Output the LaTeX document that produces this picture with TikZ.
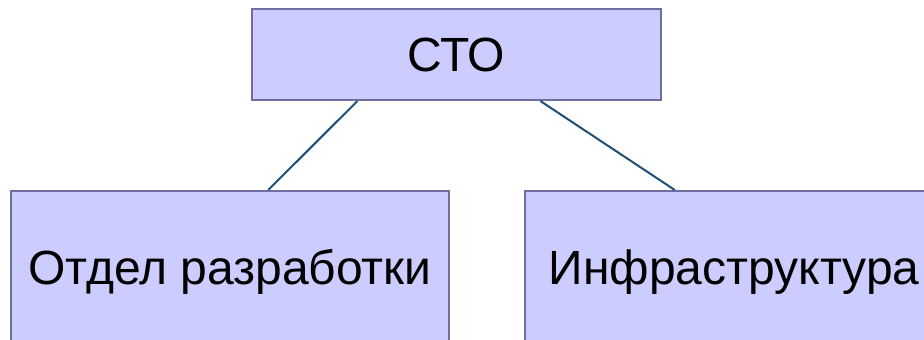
\documentclass[tikz,border=0pt]{standalone}
\usepackage{fontspec}
\setmainfont{Liberation Sans}
\usetikzlibrary{calc}
\definecolor{boxfill}{HTML}{CCCCFF}
\definecolor{boxline}{HTML}{6E6EA0}
\definecolor{linkline}{HTML}{1F4E79}
\tikzset{
  orgbox/.style={draw=boxline, fill=boxfill, line width=2pt, inner sep=0pt,
    font=\fontsize{48}{56}\selectfont},
  link/.style={draw=linkline, line width=2pt}
}
\begin{document}
\begin{tikzpicture}[x=1pt, y=1pt]
  \useasboundingbox (0,0) rectangle (924,340);
  \clip (0,0) rectangle (924,340);
  \node[orgbox, minimum width=409pt, minimum height=91pt] (cto) at (456.5,285.5) {СТО};
  \node[orgbox, minimum width=438pt, minimum height=162pt] (dev) at (230,68) {Отдел разработки};
  \node[orgbox, minimum width=418pt, minimum height=162pt] (infra) at (734,68) {Инфраструктура};
  \draw[link] ($(cto.south west)!0.259!(cto.south east)$) -- ($(dev.north west)!0.587!(dev.north east)$);
  \draw[link] ($(cto.south west)!0.704!(cto.south east)$) -- ($(infra.north west)!0.359!(infra.north east)$);
\end{tikzpicture}
\end{document}
